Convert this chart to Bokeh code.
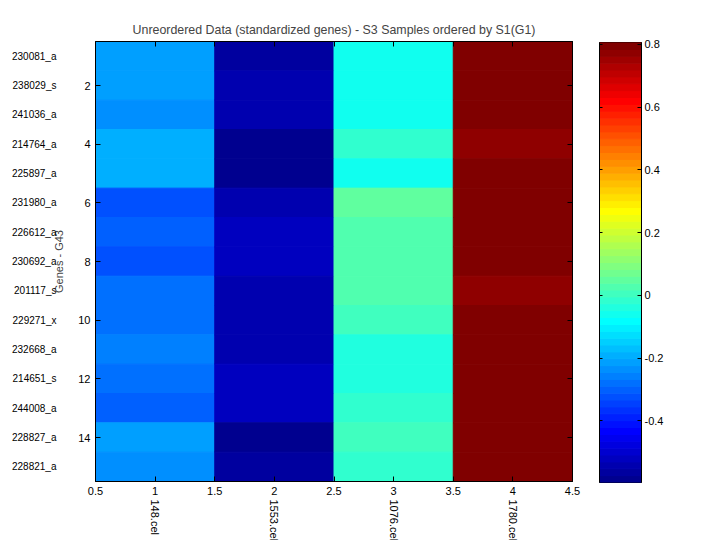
import math
import numpy as np
from bokeh.plotting import figure
from bokeh.layouts import row, column
from bokeh.models import (Range1d, FixedTicker, LinearAxis, LinearColorMapper,
                          ColumnDataSource, CustomJSTickFormatter)
from bokeh.core.properties import value
from bokeh.embed import file_html
from bokeh.resources import INLINE

# ---------------- data ----------------
genes = ["230081_a", "238029_s", "241036_a", "214764_a", "225897_a", "231980_a", "226612_a",
         "230692_a", "201117_s", "229271_x", "232668_a", "214651_s", "244008_a", "228827_a", "228821_a"]
samples = ["148.cel", "1553.cel", "1076.cel", "1780.cel"]

s148 = [-0.21, -0.21, -0.23, -0.19, -0.19, -0.32, -0.30, -0.32, -0.28, -0.28, -0.26, -0.28, -0.30, -0.21, -0.23]
s1553 = [-0.56, -0.54, -0.54, -0.59, -0.596, -0.54, -0.52, -0.52, -0.54, -0.54, -0.54, -0.52, -0.52, -0.59, -0.56]
s1076 = [-0.06, -0.06, -0.06, -0.02, -0.06, 0.052, 0.03, 0.03, 0.03, 0.01, -0.04, -0.04, -0.02, 0.01, -0.02]
s1780 = [0.806, 0.79, 0.79, 0.77, 0.80, 0.79, 0.80, 0.79, 0.77, 0.79, 0.80, 0.79, 0.79, 0.80, 0.79]
columns = [s148, s1553, s1076, s1780]

y_ticks = [2, 4, 6, 8, 10, 12, 14]
cbar_ticks = [-0.4, -0.2, 0, 0.2, 0.4, 0.6, 0.8]
title = "Unreordered Data (standardized genes) - S3 Samples ordered by S1(G1)"
ylabel = "Genes - G43"


def jet(m=64):
    n = int(math.ceil(m / 4))
    u = np.concatenate([np.arange(1, n + 1) / n, np.ones(n - 1), np.arange(n, 0, -1) / n])
    g = int(math.ceil(n / 2)) - (1 if m % 4 == 1 else 0) + np.arange(1, len(u) + 1)
    r = g + n
    b = g - n
    J = np.zeros((m, 3))
    for k, idx in enumerate((r, g, b)):
        for i, val in zip(idx, u):
            if 1 <= i <= m:
                J[i - 1, k] = val
    return ["#%02x%02x%02x" % tuple(int(round(c * 255)) for c in rw) for rw in J]


palette = jet(64)
all_vals = [v for col in columns for v in col]
low, high = min(all_vals), max(all_vals)
mapper = LinearColorMapper(palette=palette, low=low, high=high)

xs, ys, vs = [], [], []
for ci, col in enumerate(columns):
    for ri, v in enumerate(col):
        xs.append(ci + 1)
        ys.append(ri + 1)
        vs.append(v)
src = ColumnDataSource(dict(x=xs, y=ys, v=vs))

ncol, nrow = len(samples), len(genes)
FONT = "Liberation Sans"
fmt = CustomJSTickFormatter(code="return String(Math.round(tick*10)/10);")
blank = CustomJSTickFormatter(code="return '';")


def style_axis(ax):
    ax.major_tick_in = 5
    ax.major_tick_out = 0
    ax.minor_tick_line_color = None
    ax.axis_line_color = "black"
    ax.major_tick_line_color = "black"
    ax.major_label_text_font = FONT
    ax.major_label_text_font_size = "11px"
    ax.major_label_text_color = "black"


# ---------------- main heatmap ----------------
x_range = Range1d(0.5, ncol + 0.5)
p = figure(width=589, height=499, output_backend="svg", toolbar_location=None,
           x_range=x_range, y_range=Range1d(nrow + 0.5, 0.5),
           min_border_left=95, min_border_top=41, min_border_right=17, min_border_bottom=18)
p.title.text = title
p.title.align = "center"
p.title.text_font = FONT
p.title.text_font_size = "12.4px"
p.title.text_font_style = "normal"
p.title.standoff = 9

p.rect(x="x", y="y", width=1, height=1, source=src,
       fill_color={"field": "v", "transform": mapper},
       line_color={"field": "v", "transform": mapper}, line_width=1)

p.grid.visible = False
p.outline_line_color = "black"

xax = p.xaxis[0]
xax.ticker = FixedTicker(ticks=list(np.arange(0.5, ncol + 0.51, 0.5)))
xax.formatter = fmt
style_axis(xax)
xax.major_label_standoff = 5

yax = p.yaxis[0]
yax.ticker = FixedTicker(ticks=y_ticks)
yax.formatter = fmt
style_axis(yax)
yax.major_label_standoff = 5
yax.axis_label = ylabel
yax.axis_label_text_font = FONT
yax.axis_label_text_font_size = "11px"
yax.axis_label_text_font_style = "normal"
yax.axis_label_standoff = 10

# gene names (left, outside numeric axis)
gax = LinearAxis(ticker=FixedTicker(ticks=list(range(1, nrow + 1))),
                 major_label_overrides={i + 1: g for i, g in enumerate(genes)})
style_axis(gax)
gax.axis_line_color = None
gax.major_tick_line_color = None
gax.major_label_standoff = -6
gax.major_label_text_font_size = "10px"
p.add_layout(gax, "left")

# mirrored ticks top / right
tax = LinearAxis(ticker=FixedTicker(ticks=list(np.arange(0.5, ncol + 0.51, 0.5))), formatter=blank)
style_axis(tax)
tax.major_label_standoff = 0
p.add_layout(tax, "above")
rax = LinearAxis(ticker=FixedTicker(ticks=y_ticks), formatter=blank)
style_axis(rax)
rax.major_label_standoff = 0
p.add_layout(rax, "right")

# ---------------- sample names strip (rotated) ----------------
p3 = figure(width=589, height=41, output_backend="svg", toolbar_location=None, title=None,
            x_range=x_range, y_range=Range1d(0, 1),
            min_border_left=95, min_border_top=0, min_border_right=17, min_border_bottom=0)
p3.axis.visible = False
p3.grid.visible = False
p3.outline_line_color = None
lab_src = ColumnDataSource(dict(x=list(range(1, ncol + 1)), y=[1] * ncol, text=samples))
p3.text(x="x", y="y", text="text", source=lab_src, angle=-math.pi / 2,
        text_align="left", text_baseline="middle", text_font=value(FONT),
        text_font_size="11px", text_color="black")

# ---------------- colorbar figure ----------------
nc = len(palette)
step = (high - low) / nc
cb_src = ColumnDataSource(dict(bottom=[low + i * step for i in range(nc)],
                               top=[low + (i + 1) * step for i in range(nc)],
                               color=palette))
p2 = figure(width=131, height=540, output_backend="svg", toolbar_location=None,
            x_range=Range1d(0, 1), y_range=Range1d(low, high),
            min_border_left=10, min_border_right=79, min_border_top=42, min_border_bottom=58)
p2.quad(left=0, right=1, bottom="bottom", top="top", source=cb_src,
        fill_color="color", line_color="color", line_width=1)
p2.grid.visible = False
p2.outline_line_color = "black"
p2.xaxis.visible = False
cax_l = p2.yaxis[0]
cax_l.ticker = FixedTicker(ticks=cbar_ticks)
cax_l.formatter = blank
style_axis(cax_l)
cax_l.major_tick_in = 3
cax_l.major_label_standoff = 0
cax_r = LinearAxis(ticker=FixedTicker(ticks=cbar_ticks), formatter=fmt)
style_axis(cax_r)
cax_r.major_tick_in = 4
cax_r.major_label_standoff = 3
p2.add_layout(cax_r, "right")

layout = row(column(p, p3), p2)
open("out.html", "w").write(file_html(layout, INLINE))
